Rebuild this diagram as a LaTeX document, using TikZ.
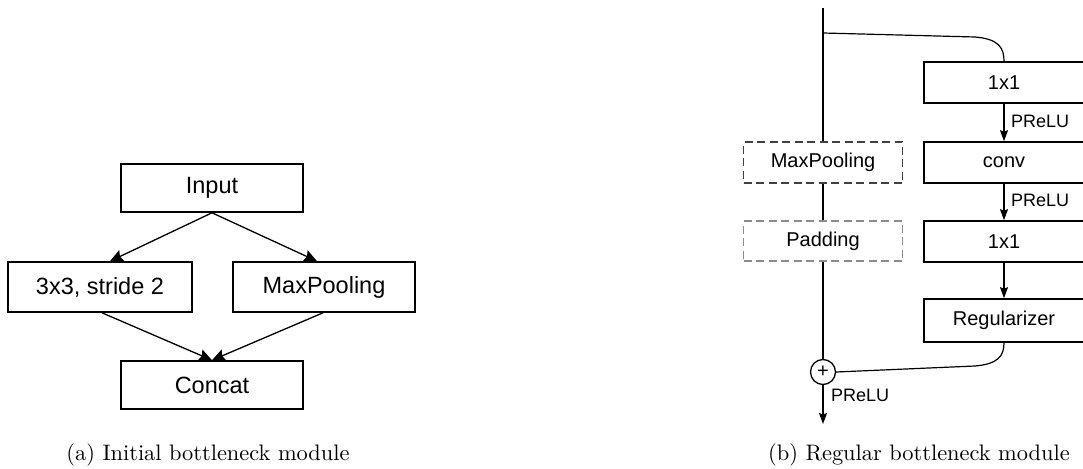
\documentclass[tikz,border=0pt]{standalone}
\usepackage{fontspec}
\newfontfamily\boxfont{Liberation Sans}
\newfontfamily\capfont{lmroman10-regular.otf}
\usetikzlibrary{arrows.meta,calc}
\begin{document}
\begin{tikzpicture}[x=1pt,y=-1pt,
  blk/.style={draw, line width=1.6pt, inner sep=0pt, minimum height=48pt,
    minimum width=182pt, font=\boxfont\fontsize{23.5}{28}\selectfont},
  rblk/.style={draw, line width=1.6pt, inner sep=0pt, minimum height=41pt,
    minimum width=160pt, font=\boxfont\fontsize{20}{24}\selectfont},
  dblk/.style={rblk, line width=1.3pt, dash pattern=on 8pt off 4.5pt, minimum width=159pt},
  bigarrow/.style={line width=1.3pt, -{Stealth[length=13pt,width=12pt,inset=2pt]}},
  smallarrow/.style={line width=1.4pt, -{Stealth[length=11pt,width=8pt,inset=1.5pt]}},
  trunk/.style={line width=1.9pt},
  skip/.style={line width=1.2pt},
  act/.style={font=\boxfont\fontsize{18}{22}\selectfont, inner sep=0pt, anchor=west},
  caption/.style={font=\capfont\fontsize{22.4}{27}\selectfont, anchor=base, inner sep=0pt}]
\useasboundingbox (0,0) rectangle (1083,468);

% ---------- (a) initial bottleneck module ----------
\node[blk] (in) at (212,188) {Input};
\node[blk, minimum width=184pt, minimum height=50pt] (cv) at (100,287) {3x3, stride 2};
\node[blk, minimum height=50pt] (mx) at (324,287) {MaxPooling};
\node[blk] (cat) at (212,385) {Concat};

\draw[bigarrow] (in.south) -- ([xshift=10pt]cv.north);
\draw[bigarrow] (in.south) -- ([xshift=-7pt]mx.north);
\draw[bigarrow] ([xshift=2pt]cv.south) -- (cat.north);
\draw[bigarrow] ([xshift=-1pt]mx.south) -- (cat.north);

\node[caption] (capa) at (208,460) {(a) Initial bottleneck module};

% ---------- (b) regular bottleneck module ----------
\coordinate (top) at (823,8);
\coordinate (bot) at (823,424);
\node[rblk] (c1) at (1004,82.5) {1x1};
\node[rblk] (cc) at (1004,162.5) {conv};
\node[rblk] (c2) at (1004,241.5) {1x1};
\node[rblk, minimum height=43pt] (rg) at (1004,320.5) {Regularizer};
\node[dblk, draw=black!75] (mp) at (823,162.5) {MaxPooling};
\node[dblk, draw=black!45, minimum height=40pt] (pd) at (823,241) {Padding};
\node[draw, circle, line width=1.3pt, minimum size=25pt, inner sep=0pt,
  font=\boxfont\fontsize{20}{22}\selectfont] (add) at (823,372) {+};

% main branch
\draw[trunk] (top) -- (mp.north);
\draw[trunk] (mp.south) -- (pd.north);
\draw[trunk] (pd.south) -- (add.north);
\draw[smallarrow] (add.south) -- (bot);

% convolution branch
\coordinate (split) at (823,33);
\draw[skip] (split) -- (975,37) .. controls (999,39) and (1004,48) .. (c1.north);
\draw[smallarrow] (c1.south) -- (cc.north);
\draw[smallarrow] (cc.south) -- (c2.north);
\draw[smallarrow] (c2.south) -- (rg.north);
\draw[skip] (rg.south) .. controls (1004,356) and (998,364) .. (975,366) -- (add.east);

\node[act] (a1) at (1011,121) {PReLU};
\node[act] (a2) at (1011,200) {PReLU};
\node[act] (a3) at (831,395) {PReLU};

\node[caption] (capb) at (919,460) {(b) Regular bottleneck module};
\end{tikzpicture}
\end{document}
